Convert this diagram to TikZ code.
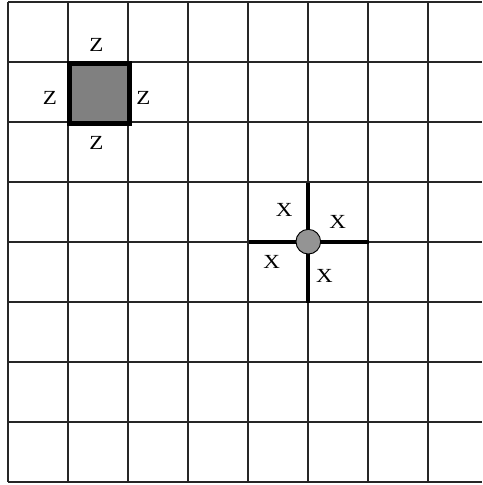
\documentclass[tikz,border=0pt]{standalone}
\usepackage{fontspec}
\setmainfont{Liberation Serif}
\newfontfamily\widefont[FakeStretch=1.15]{Liberation Serif}
\begin{document}
\begin{tikzpicture}[x=0.75pt,y=-0.75pt,
  gridline/.style={line width=0.9pt,black!85},
  lbl/.style={font=\widefont\fontsize{15}{17}\selectfont,inner sep=0pt},
  thickline/.style={line width=3.7pt,black},
  sq/.style={draw=black,line width=4.4pt,fill=black!50,minimum size=45pt,inner sep=0pt},
  dot/.style={circle,draw=black,line width=0.7pt,fill=black!42,minimum size=18.5pt,inner sep=0pt}]
\useasboundingbox (0,0) rectangle (482,485);
\fill[white] (0,0) rectangle (482,485);
% grid
\foreach \i in {0,...,8} \draw[gridline] (8,2+60*\i) -- (482,2+60*\i);
\foreach \i in {0,...,7} \draw[gridline] (8+60*\i,2) -- (8+60*\i,482);
% square with Z labels
\node[sq] (s) at (99.5,93.5) {};
\node[lbl] (zt) at (96.5,45) {Z};
\node[lbl] (zl) at (50,98) {Z};
\node[lbl] (zr) at (143.5,98) {Z};
\node[lbl] (zb) at (96.5,143) {Z};
% cross with X labels
\coordinate (ct) at (308,183);
\coordinate (cb) at (308,302.5);
\coordinate (cl) at (248.5,242);
\coordinate (cr) at (368.5,242);
\draw[thickline] (ct) -- (cb);
\draw[thickline] (cl) -- (cr);
\node[dot] (c) at (308.3,241.7) {};
\node[lbl] (x1) at (284.3,209.5) {X};
\node[lbl] (x2) at (337.7,222.3) {X};
\node[lbl] (x3) at (271.7,262.3) {X};
\node[lbl] (x4) at (324.3,276) {X};
\end{tikzpicture}
\end{document}
